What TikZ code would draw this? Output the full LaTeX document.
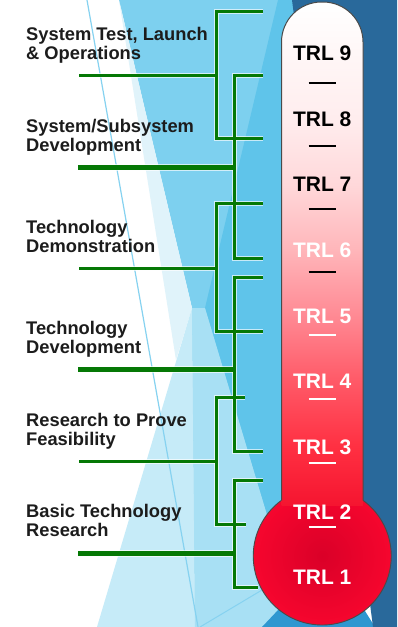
\documentclass[tikz,border=0pt]{standalone}
\usepackage{fontspec}
\setmainfont{Liberation Sans}
\definecolor{bgmed}{HTML}{7DD0EF}
\definecolor{bgdeep}{HTML}{5FC4EA}
\definecolor{bgpale}{HTML}{E0F3FA}
\definecolor{bglight}{HTML}{C6EBF8}
\definecolor{bglighttwo}{HTML}{A8E0F4}
\definecolor{bgbright}{HTML}{2F97D0}
\definecolor{bgdark}{HTML}{29699B}
\definecolor{bgline}{HTML}{86D2F0}
\definecolor{gline}{RGB}{5,120,5}
\definecolor{labeltext}{HTML}{1C1C1C}
\definecolor{rimgray}{HTML}{4A4A4A}
\definecolor{bulbin}{RGB}{218,0,40}
\definecolor{bulbout}{RGB}{246,6,46}
\definecolor{tA}{HTML}{F51530}
\definecolor{tB}{HTML}{FF3042}
\definecolor{tC}{HTML}{FF5A68}
\definecolor{tD}{HTML}{FF8A94}
\definecolor{tE}{HTML}{FFB6BA}
\definecolor{tF}{HTML}{FFD8DA}
\definecolor{tG}{HTML}{FFEDEE}
\definecolor{tH}{HTML}{FFF7F7}
% the shaded path's box spans 25bp..75bp of this shading
\pgfdeclareverticalshading{tubeshade}{100bp}{color(0bp)=(tA); color(28.7bp)=(tA);
  color(34.1bp)=(tB); color(40.2bp)=(tC); color(46.2bp)=(tD); color(52.2bp)=(tE);
  color(58.2bp)=(tF); color(64.3bp)=(tG); color(70.4bp)=(tH); color(75bp)=(white);
  color(100bp)=(white)}
% bracket work: arms, spines and stems, drawn once per layer
\newcommand{\greenwork}[2]{%
  \foreach \b in {1,...,6} {\draw[#1] (at\b) -- (ct\b) -- (cb\b) -- (ab\b);}
  \foreach \b in {1,3,5} {\draw[#1] (s\b) -- (s\b -| ct\b);}
  \foreach \b in {2,4,6} {\draw[#2] (s\b) -- (s\b -| ct\b);}
}
\begin{document}
\begin{tikzpicture}[x=1pt,y=-1pt,
  lbl/.style={anchor=base west, align=left, inner sep=0pt,
    font=\fontsize{18.3}{18.5}\selectfont\bfseries, text=labeltext},
  trl/.style={anchor=base, inner sep=0pt, font=\fontsize{21}{21}\selectfont\bfseries},
  trldark/.style={trl, text=black},
  trllight/.style={trl, text=white},
  gthin/.style={draw=gline, line width=3pt, line join=miter},
  gthick/.style={draw=gline, line width=5pt, line join=miter},
  halothin/.style={draw=white, draw opacity=0.65, line width=5pt, line join=miter},
  halothick/.style={draw=white, draw opacity=0.65, line width=7pt, line join=miter},
  sepdark/.style={draw=black, line width=2pt},
  seplight/.style={draw=white, line width=2pt},
  rim/.style={draw=rimgray, line width=1pt}]
\useasboundingbox (0,0) rectangle (397,627);

% faceted background
\fill[white] (0,0) rectangle (397,627);
\fill[bgmed] (119,0) -- (300,0) -- (300,627) -- (195,627) -- (192,308) -- cycle;
\fill[bgdeep] (278,0) -- (300,0) -- (300,627) -- (285,627) -- (267,515) -- (205,308) -- cycle;
\fill[bgpale] (119,0) -- (192,308) -- (176,360) -- cycle;
\fill[bglight] (97,627) -- (192,308) -- (195,627) -- cycle;
\fill[bglighttwo] (192,308) -- (205,308) -- (267,515) -- (285,627) -- (195,627) -- cycle;
\fill[bgbright] (262,627) -- (330,555) -- (375,627) -- cycle;
\fill[bgdark] (292,0) -- (397,0) -- (397,627) -- (373,627) -- cycle;
\draw[bgline, line width=1.2pt] (87,0) -- (198,627);
\draw[bgline, line width=1pt] (200,627) -- (262,590);

% thermometer
\coordinate (bulbc) at (322.25,556);
\shade[inner color=bulbin, outer color=bulbout] (bulbc) circle (69);
\draw[draw=rimgray, line width=0.9pt] (bulbc) circle (69);
\begin{scope}
  \clip (0,0) rectangle (397,505);
  \shade[shading=tubeshade, rounded corners=40] (281.5,545) -- (281.5,2) -- (363,2) -- (363,545) -- cycle;
\end{scope}
\draw[rim, rounded corners=40] (281.5,500.5) -- (281.5,2) -- (363,2) -- (363,500.5);

\node[trldark]  (t9) at (322.25,60)  {TRL 9};
\node[trldark]  (t8) at (322.25,126) {TRL 8};
\node[trldark]  (t7) at (322.25,191) {TRL 7};
\node[trllight] (t6) at (322.25,257) {TRL 6};
\node[trllight] (t5) at (322.25,323) {TRL 5};
\node[trllight] (t4) at (322.25,388) {TRL 4};
\node[trllight] (t3) at (322.25,454) {TRL 3};
\node[trllight] (t2) at (322.25,519) {TRL 2};
\node[trllight] (t1) at (322.25,584) {TRL 1};
\foreach \y in {83,146,209,272} {\draw[sepdark] (308.5,\y) -- (335.5,\y);}
\foreach \y in {335,399,463,527} {\draw[seplight] (308.5,\y) -- (335.5,\y);}

% phase labels (placed by the baseline of their second line)
\node[lbl] (l1) at (26,59)  {System Test, Launch\\\& Operations};
\node[lbl] (l2) at (26,151) {System/Subsystem\\Development};
\node[lbl] (l3) at (26,252) {Technology\\Demonstration};
\node[lbl] (l4) at (26,353) {Technology\\Development};
\node[lbl] (l5) at (26,445) {Research to Prove\\Feasibility};
\node[lbl] (l6) at (26,536) {Basic Technology\\Research};

% bracket anchors: stem starts, spine corners, arm ends
\coordinate (s1) at (79,75);   \coordinate (ct1) at (216,11);  \coordinate (cb1) at (216,138);
\coordinate (at1) at (263,11); \coordinate (ab1) at (263,138);
\coordinate (s2) at (78,167);  \coordinate (ct2) at (234,75);  \coordinate (cb2) at (234,258);
\coordinate (at2) at (263,75); \coordinate (ab2) at (263,258);
\coordinate (s3) at (79,268);  \coordinate (ct3) at (216,203); \coordinate (cb3) at (216,331);
\coordinate (at3) at (263,203);\coordinate (ab3) at (263,331);
\coordinate (s4) at (78,369);  \coordinate (ct4) at (234,277); \coordinate (cb4) at (234,451);
\coordinate (at4) at (263,277);\coordinate (ab4) at (263,451);
\coordinate (s5) at (79,461);  \coordinate (ct5) at (216,397); \coordinate (cb5) at (216,524);
\coordinate (at5) at (245,397);\coordinate (ab5) at (246,524);
\coordinate (s6) at (78,553);  \coordinate (ct6) at (234,480); \coordinate (cb6) at (234,587);
\coordinate (at6) at (263,480);\coordinate (ab6) at (258,587);

\greenwork{halothin}{halothick}
\greenwork{gthin}{gthick}
\end{tikzpicture}
\end{document}
